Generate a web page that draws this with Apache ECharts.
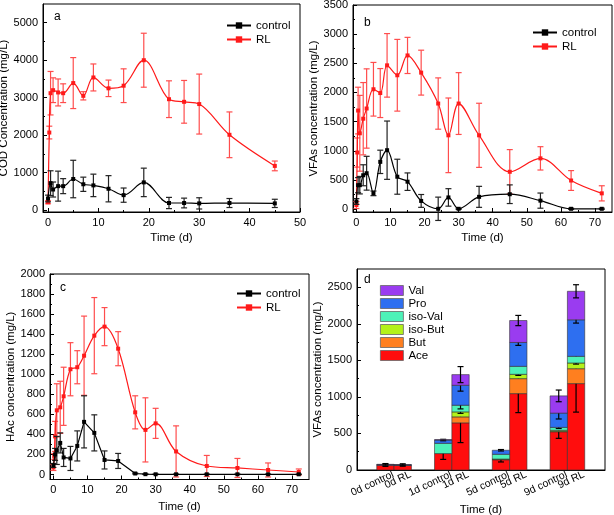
<!DOCTYPE html>
<html><head><meta charset="utf-8">
<script src="https://cdn.jsdelivr.net/npm/echarts@6/dist/echarts.min.js"></script>
<style>html,body{margin:0;padding:0;background:#fff}#c{width:614px;height:515px}</style>
</head><body><div id="c"></div>
<script>
// ---------- Panel a: COD ----------
const codTimeRL   = [0, 0.25, 0.5, 1, 2, 3, 5, 7, 9, 12, 15, 19, 24, 27, 30, 36, 45];
const codRL       = [210, 2070, 3120, 3200, 3140, 3120, 3390, 3050, 3540, 3250, 3320, 4000, 2960, 2890, 2830, 2010, 1180];
const codRLErr    = [40, 170, 580, 330, 360, 250, 680, 110, 360, 220, 450, 720, 490, 570, 800, 610, 130];
const codTimeCtrl = [0, 0.5, 1, 2, 3, 5, 7, 9, 12, 15, 19, 24, 27, 30, 36, 45];
const codCtrl     = [310, 720, 550, 640, 640, 830, 690, 660, 570, 400, 740, 190, 190, 180, 190, 180];
const codCtrlErr  = [90, 330, 200, 400, 200, 500, 190, 300, 350, 190, 380, 150, 130, 150, 120, 110];

// ---------- Panel b: VFAs ----------
const vfaTimeRL   = [0, 0.25, 0.5, 1, 2, 3, 5, 7, 9, 12, 15, 19, 24, 27, 30, 36, 45, 54, 63, 72];
const vfaRL       = [70, 970, 1690, 1300, 1550, 1725, 2055, 1990, 2465, 2295, 2635, 2340, 1810, 1265, 1810, 1265, 640, 870, 490, 270];
const vfaRLErr    = [60, 250, 400, 650, 620, 680, 460, 420, 545, 615, 310, 385, 440, 640, 530, 550, 380, 200, 170, 130];
const vfaTimeCtrl = [0, 0.5, 1, 2, 3, 5, 7, 9, 12, 15, 19, 24, 27, 30, 36, 45, 54, 63, 72];
const vfaCtrl     = [130, 410, 410, 580, 615, 270, 810, 1010, 555, 470, 140, 5, 200, 5, 210, 255, 145, 5, 5];
const vfaCtrlErr  = [50, 130, 150, 180, 290, 40, 200, 500, 300, 150, 110, 200, 150, 10, 180, 160, 130, 10, 10];

// ---------- Panel c: HAc ----------
const hacTimeRL   = [0, 0.25, 0.5, 1, 2, 3, 5, 7, 9, 12, 15, 19, 24, 27, 30, 36, 45, 54, 63, 72];
const hacRL       = [70, 180, 380, 640, 670, 780, 1050, 1070, 1185, 1385, 1475, 1255, 620, 445, 510, 230, 85, 65, 45, 25];
const hacRLErr    = [30, 30, 150, 265, 260, 290, 265, 165, 395, 380, 190, 170, 165, 320, 150, 255, 105, 95, 70, 30];
const hacTimeCtrl = [0, 0.5, 1, 2, 3, 5, 7, 9, 12, 15, 19, 24, 27, 30, 36, 45, 54, 63, 72];
const hacCtrl     = [90, 200, 240, 315, 170, 160, 285, 525, 415, 145, 135, 10, 3, 2, 2, 2, 2, 2, 2];
const hacCtrlErr  = [20, 60, 140, 100, 90, 120, 150, 260, 180, 90, 75, 5, 3, 2, 2, 2, 2, 2, 2];

// ---------- Panel d: VFA composition ----------
const dCategories = ['0d control', '0d RL', '1d control', '1d RL', '5d control', '5d RL', '9d control', '9d RL'];
const aceVals    = [65, 62, 225, 645, 140, 1045, 523, 1182];
const butVals    = [0, 0, 0, 82, 5, 205, 5, 204];
const isoButVals = [0, 0, 0, 68, 5, 59, 15, 78];
const isoValVals = [0, 0, 140, 91, 65, 109, 40, 91];
const proVals    = [8, 8, 45, 273, 55, 327, 195, 500];
const valVals    = [5, 5, 5, 146, 0, 300, 236, 390];
const aceErr     = [15, 10, 80, 270, 30, 260, 90, 390];
const butErr     = [0, 0, 0, 0, 0, 0, 0, 0];
const isoButErr  = [0, 0, 0, 20, 0, 15, 0, 15];
const isoValErr  = [0, 0, 0, 50, 0, 0, 15, 0];
const proErr     = [0, 0, 10, 80, 10, 40, 80, 45];
const valErr     = [10, 10, 0, 110, 0, 70, 80, 90];

// ---------- Ticks ----------
const xTicksA = [0, 10, 20, 30, 40, 50];
const xTicksBC = [0, 10, 20, 30, 40, 50, 60, 70];
const yTicksA = [0, 1000, 2000, 3000, 4000, 5000];
const yTicksB = [0, 500, 1000, 1500, 2000, 2500, 3000, 3500];
const yTicksC = [0, 200, 400, 600, 800, 1000, 1200, 1400, 1600, 1800, 2000];
const yTicksD = [0, 500, 1000, 1500, 2000, 2500];

const FONT = '"Liberation Sans", Arial, Helvetica, sans-serif';
const RED = '#ff1a1a', RED_ERR = '#ff4d4d', BLACK = '#000';

function minors(majors, lo, hi) {
  const step = majors[1] - majors[0], out = [];
  for (let v = majors[0] - step / 2; v <= hi; v += step) if (v > lo && v < hi) out.push(v);
  return out;
}
const zip = (a, b, c) => a.map((v, i) => c ? [v, b[i], c[i]] : [v, b[i]]);

const grids = [], xAxes = [], yAxes = [], series = [], legends = [], graphics = [];

function errRender(cap, color) {
  return function (params, api) {
    const x = api.value(0), y = api.value(1), e = api.value(2);
    if (!e) return null;
    const hi = api.coord([x, y + e]), lo = api.coord([x, y - e]);
    const style = { stroke: color, lineWidth: 1.2 };
    return { type: 'group', children: [
      { type: 'line', shape: { x1: hi[0], y1: hi[1], x2: lo[0], y2: lo[1] }, style },
      { type: 'line', shape: { x1: hi[0] - cap, y1: hi[1], x2: hi[0] + cap, y2: hi[1] }, style },
      { type: 'line', shape: { x1: lo[0] - cap, y1: lo[1], x2: lo[0] + cap, y2: lo[1] }, style }
    ]};
  };
}

function addAxes(g, cfg) {
  grids.push(Object.assign({ show: true, borderColor: '#000', borderWidth: 1, backgroundColor: 'transparent', outerBoundsMode: 'none', containLabel: false }, cfg.grid));
  const xi = xAxes.length, yi = yAxes.length;
  const lab = { color: '#000', fontSize: 11, fontFamily: FONT, formatter: v => String(Math.round(v)) };
  xAxes.push({
    type: 'value', gridIndex: g, min: cfg.x.min, max: cfg.x.max, position: 'bottom',
    axisLine: { show: true, onZero: false, lineStyle: { color: '#000', width: 1 } },
    axisTick: { show: cfg.x.ticks !== false, inside: true, length: 4, customValues: cfg.x.majors, lineStyle: { color: '#000' } },
    axisLabel: Object.assign({ margin: 5, customValues: cfg.x.labelValues || cfg.x.majors, interval: 0, hideOverlap: false, showMinLabel: true, showMaxLabel: true }, lab, cfg.x.label || {}),
    splitLine: { show: false },
    name: 'Time (d)', nameLocation: 'middle', nameGap: cfg.x.nameGap,
    nameTextStyle: { color: '#000', fontSize: 11.5, fontFamily: FONT }
  });
  yAxes.push({
    type: 'value', gridIndex: g, min: cfg.y.min, max: cfg.y.max, position: 'left',
    axisLine: { show: true, onZero: false, lineStyle: { color: '#000', width: 1 } },
    axisTick: { show: true, inside: true, length: 4, customValues: cfg.y.majors, lineStyle: { color: '#000' } },
    axisLabel: Object.assign({ margin: 5, customValues: cfg.y.majors, showMinLabel: true, showMaxLabel: true }, lab),
    splitLine: { show: false },
    name: cfg.y.name, nameLocation: 'middle', nameGap: cfg.y.nameGap, nameRotate: 90,
    nameTextStyle: { color: '#000', fontSize: 11.5, fontFamily: FONT }
  });
  if (cfg.x.ticks !== false) {
    xAxes.push({ type: 'value', gridIndex: g, min: cfg.x.min, max: cfg.x.max, position: 'bottom',
      axisLine: { show: false, onZero: false }, axisLabel: { show: false }, splitLine: { show: false },
      axisTick: { show: true, inside: true, length: 2, customValues: minors(cfg.x.majors, cfg.x.min, cfg.x.max), lineStyle: { color: '#000' } } });
  }
  if (cfg.x.extraLabelValues) {
    xAxes.push({ type: 'value', gridIndex: g, min: cfg.x.min, max: cfg.x.max, position: 'bottom',
      axisLine: { show: false, onZero: false }, axisTick: { show: false }, splitLine: { show: false },
      axisLabel: Object.assign({ margin: 5, customValues: cfg.x.extraLabelValues, interval: 0, hideOverlap: false, showMinLabel: true, showMaxLabel: true }, lab, cfg.x.label || {}) });
  }
  yAxes.push({ type: 'value', gridIndex: g, min: cfg.y.min, max: cfg.y.max, position: 'left',
    axisLine: { show: false, onZero: false }, axisLabel: { show: false }, splitLine: { show: false },
    axisTick: { show: true, inside: true, length: 2, customValues: minors(cfg.y.majors, cfg.y.min, cfg.y.max), lineStyle: { color: '#000' } } });
  return { xi, yi };
}

function addLinePanel(g, cfg, ctrl, rl, smoothCtrl) {
  const { xi, yi } = addAxes(g, cfg);
  const common = { xAxisIndex: xi, yAxisIndex: yi };
  series.push(Object.assign({ type: 'custom', name: 'RL-err', renderItem: errRender(3, RED_ERR), data: zip(rl[0], rl[1], rl[2]), encode: { x: 0, y: 1 }, z: 2, silent: true }, common));
  series.push(Object.assign({ type: 'line', name: 'RL', data: zip(rl[0], rl[1]), smooth: 0.35, symbol: 'rect', symbolSize: 4,
    lineStyle: { color: RED, width: 1.2 }, itemStyle: { color: RED }, z: 3, animation: false }, common));
  series.push(Object.assign({ type: 'custom', name: 'ctrl-err', renderItem: errRender(3, '#222'), data: zip(ctrl[0], ctrl[1], ctrl[2]), encode: { x: 0, y: 1 }, z: 4, silent: true }, common));
  series.push(Object.assign({ type: 'line', name: 'control', data: zip(ctrl[0], ctrl[1]), smooth: smoothCtrl ? 0.35 : false, symbol: 'rect', symbolSize: 4,
    lineStyle: { color: BLACK, width: 1.2 }, itemStyle: { color: BLACK }, z: 5, animation: false }, common));
  legends.push(Object.assign({ data: ['control', 'RL'], orient: 'vertical', itemWidth: 24, itemHeight: 8, itemGap: 1, padding: 0,
    selectedMode: false, textStyle: { color: '#000', fontSize: 11.5, lineHeight: 13, fontFamily: FONT } }, cfg.legend));
  graphics.push({ type: 'text', left: cfg.letter[0], top: cfg.letter[1], style: { text: cfg.letter[2], fill: '#000', font: '12px ' + FONT } });
}

addLinePanel(0, {
  grid: { left: 43, top: 4, width: 257, height: 208 },
  x: { min: -1, max: 50, majors: xTicksA, nameGap: 20 },
  y: { min: -50, max: 5500, majors: yTicksA, name: 'COD Concentration (mg/L)', nameGap: 31 },
  legend: { left: 226, top: 19 }, letter: [54, 11, 'a']
}, [codTimeCtrl, codCtrl, codCtrlErr], [codTimeRL, codRL, codRLErr], true);

addLinePanel(1, {
  grid: { left: 353, top: 5, width: 259, height: 207 },
  x: { min: -1, max: 75, majors: xTicksBC, nameGap: 20 },
  y: { min: -50, max: 3500, majors: yTicksB, name: 'VFAs concentration (mg/L)', nameGap: 32 },
  legend: { left: 532, top: 26 }, letter: [364, 17, 'b']
}, [vfaTimeCtrl, vfaCtrl, vfaCtrlErr], [vfaTimeRL, vfaRL, vfaRLErr], true);

addLinePanel(2, {
  grid: { left: 50, top: 274, width: 259, height: 205.5 },
  x: { min: -1, max: 75, majors: xTicksBC, nameGap: 21 },
  y: { min: -50, max: 2000, majors: yTicksC, name: 'HAc concentration (mg/L)', nameGap: 31 },
  legend: { left: 236, top: 287 }, letter: [60, 282, 'c']
}, [hacTimeCtrl, hacCtrl, hacCtrlErr], [hacTimeRL, hacRL, hacRLErr], false);

// ---------- Panel d ----------
const groupStep = 10 / 3;
const barPos = dCategories.map((_, i) => Math.floor(i / 2) * groupStep + (i % 2));
const labelShift = 0.45;
const labelPos = barPos.map(p => p + labelShift);
const nearestCat = v => { let best = 0; labelPos.forEach((p, i) => { if (Math.abs(p - v) < Math.abs(labelPos[best] - v)) best = i; }); return dCategories[best]; };
const dAx = addAxes(3, {
  grid: { left: 357, top: 269, width: 248, height: 201 },
  x: { min: -1.64, max: 12.67, majors: barPos, ticks: false, nameGap: 34,
       labelValues: labelPos.filter((_, i) => i % 2 === 0),
       extraLabelValues: labelPos.filter((_, i) => i % 2 === 1),
       label: { rotate: 25, margin: 4, fontSize: 10.5, formatter: nearestCat } },
  y: { min: 0, max: 2750, majors: yTicksD, name: 'VFAs concentration (mg/L)', nameGap: 32 }
});
const layers = [
  { name: 'Ace', vals: aceVals, err: aceErr, color: '#ff0d0d' },
  { name: 'But', vals: butVals, err: butErr, color: '#ff7f1f' },
  { name: 'iso-But', vals: isoButVals, err: isoButErr, color: '#b3f21a' },
  { name: 'iso-Val', vals: isoValVals, err: isoValErr, color: '#4df2b8' },
  { name: 'Pro', vals: proVals, err: proErr, color: '#2e6ff0' },
  { name: 'Val', vals: valVals, err: valErr, color: '#9a3cf0' }
];
function barRender(params, api) {
  const x = api.value(0), base = api.value(1), top = api.value(2);
  if (top <= base) return null;
  const p0 = api.coord([x, base]), p1 = api.coord([x, top]);
  const w = api.size([1, 0])[0];
  return { type: 'rect', shape: { x: p0[0] - w / 2, y: p1[1], width: w, height: p0[1] - p1[1] },
    style: { fill: api.visual('color'), stroke: '#333', lineWidth: 0.6 } };
}
const cum = dCategories.map(() => 0);
layers.forEach((ly, k) => {
  const bases = cum.slice();
  ly.vals.forEach((v, i) => cum[i] += v);
  const tops = cum.slice();
  series.push({ type: 'custom', name: ly.name, xAxisIndex: dAx.xi, yAxisIndex: dAx.yi,
    renderItem: barRender, encode: { x: 0, y: [1, 2] },
    data: barPos.map((p, i) => [p, bases[i], tops[i]]),
    itemStyle: { color: ly.color, borderColor: '#555', borderWidth: 0.8 }, z: 2 + 2 * k });
  series.push({ type: 'custom', name: ly.name + '-err', xAxisIndex: dAx.xi, yAxisIndex: dAx.yi,
    renderItem: errRender(3, '#000'), encode: { x: 0, y: 1 }, silent: true, z: 3 + 2 * k,
    data: barPos.map((p, i) => [p, tops[i], ly.err[i]]) });
});
legends.push({ data: ['Val', 'Pro', 'iso-Val', 'iso-But', 'But', 'Ace'], orient: 'vertical', left: 380, top: 284, padding: 0,
  itemWidth: 23, itemHeight: 10, itemGap: 0, icon: 'rect', selectedMode: false,
  itemStyle: { borderColor: '#666', borderWidth: 0.8 },
  textStyle: { color: '#000', fontSize: 11.5, lineHeight: 13, fontFamily: FONT } });
graphics.push({ type: 'text', left: 364, top: 274, style: { text: 'd', fill: '#000', font: '12px ' + FONT } });

const chart = echarts.init(document.getElementById('c'));
chart.setOption({
  animation: false,
  backgroundColor: '#fff',
  textStyle: { fontFamily: FONT },
  grid: grids, xAxis: xAxes, yAxis: yAxes, series: series, legend: legends, graphic: graphics
});
</script></body></html>
